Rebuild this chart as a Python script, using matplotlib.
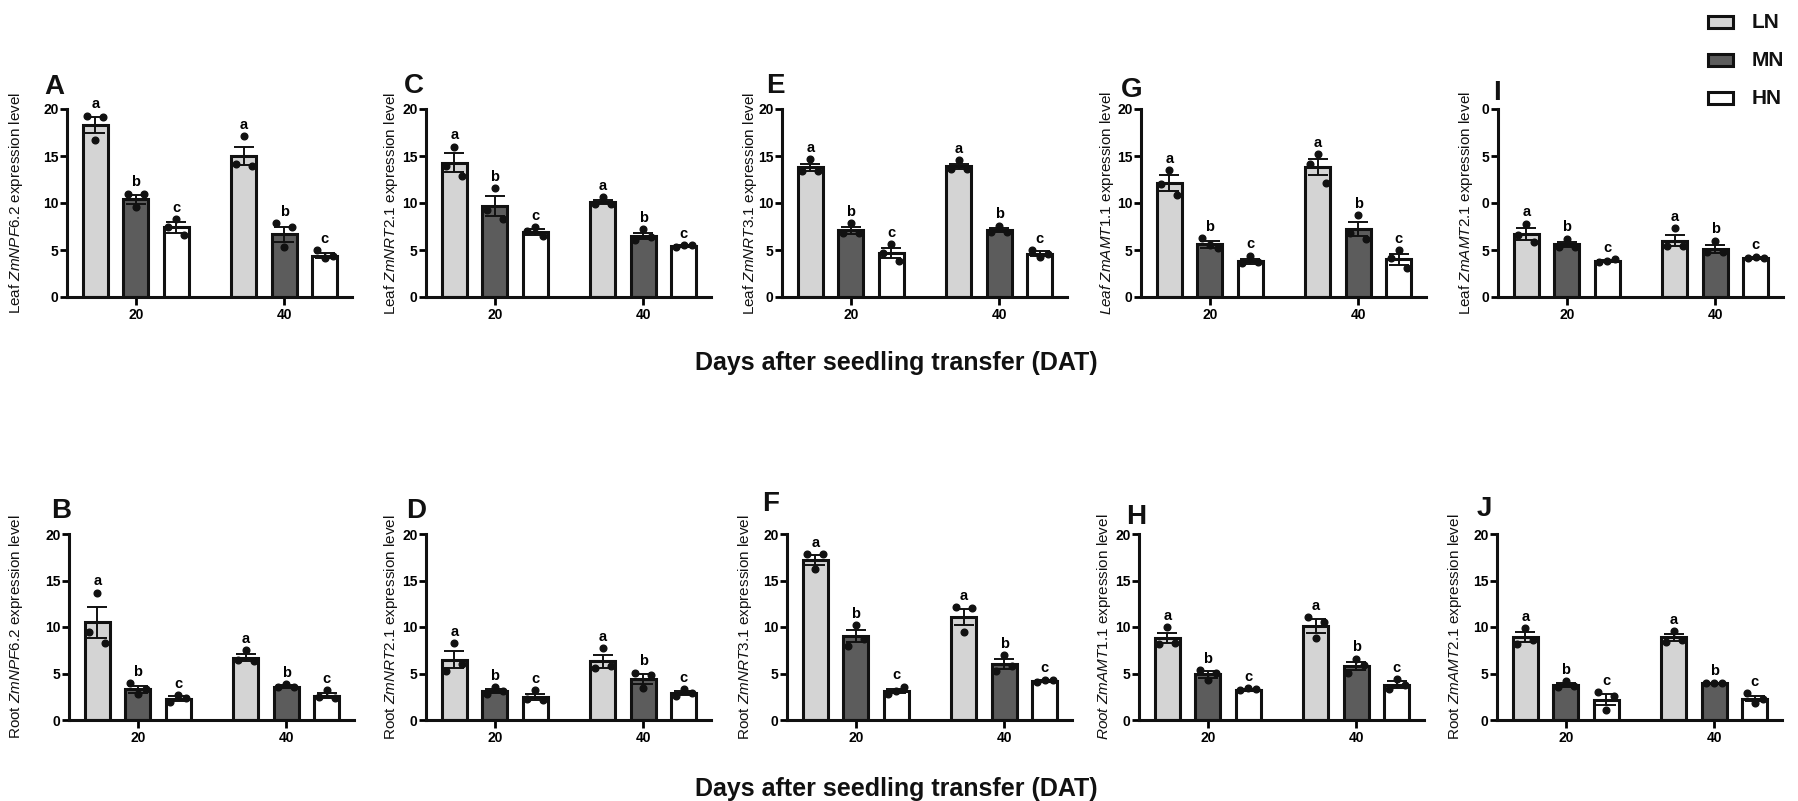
import matplotlib
matplotlib.use("Agg")
import matplotlib.pyplot as plt
from matplotlib.patches import Rectangle
import numpy as np

plt.rcParams['font.family'] = ['Liberation Sans', 'DejaVu Sans']
plt.rcParams['mathtext.fontset'] = 'custom'
plt.rcParams['mathtext.rm'] = 'Liberation Sans'
plt.rcParams['mathtext.it'] = 'Liberation Sans:italic'
plt.rcParams['mathtext.bf'] = 'Liberation Sans:bold'

# ---------------- data ----------------
treatments = ["LN", "MN", "HN"]
days = ["20", "40"]
letters_sig = ["a", "b", "c", "a", "b", "c"]
# bar order: LN20, MN20, HN20, LN40, MN40, HN40
mean_A = [18.3, 10.4, 7.4, 15.0, 6.7, 4.4]
sem_A = [0.85, 0.5, 0.6, 1.0, 0.8, 0.3]
dots_A = [[19.3, 16.7, 19.2], [11.0, 9.6, 11.0], [7.5, 8.3, 6.6],
          [14.2, 17.1, 13.9], [7.9, 5.3, 7.4], [5.0, 4.2, 4.4]]

mean_B = [10.5, 3.3, 2.3, 6.7, 3.6, 2.6]
sem_B = [1.7, 0.35, 0.25, 0.38, 0.15, 0.25]
dots_B = [[9.5, 13.7, 8.3], [4.0, 2.8, 3.3], [1.9, 2.7, 2.4],
          [6.4, 7.5, 6.3], [3.5, 3.9, 3.5], [2.5, 3.2, 2.4]]

mean_C = [14.3, 9.7, 6.9, 10.1, 6.5, 5.4]
sem_C = [1.0, 1.05, 0.3, 0.25, 0.35, 0.1]
dots_C = [[13.9, 16.0, 12.9], [9.3, 11.6, 8.3], [7.0, 7.4, 6.5],
          [9.9, 10.6, 9.9], [6.1, 7.2, 6.4], [5.3, 5.5, 5.5]]

mean_D = [6.5, 3.1, 2.5, 6.3, 4.4, 2.9]
sem_D = [0.9, 0.22, 0.3, 0.7, 0.55, 0.24]
dots_D = [[5.3, 8.3, 6.0], [2.8, 3.5, 3.1], [2.3, 3.2, 2.2],
          [5.6, 7.7, 5.8], [5.1, 3.4, 4.8], [2.6, 3.3, 2.9]]

mean_E = [13.8, 7.1, 4.7, 13.9, 7.1, 4.6]
sem_E = [0.4, 0.35, 0.5, 0.3, 0.22, 0.25]
dots_E = [[13.4, 14.7, 13.4], [6.8, 7.9, 6.8], [4.7, 5.6, 3.8],
          [13.6, 14.6, 13.6], [6.9, 7.6, 6.9], [5.0, 4.3, 4.6]]

mean_F = [17.2, 9.0, 3.1, 11.1, 6.0, 4.2]
sem_F = [0.55, 0.65, 0.25, 0.85, 0.55, 0.15]
dots_F = [[17.8, 16.2, 17.8], [8.0, 10.2, 8.7], [2.8, 3.1, 3.6],
          [12.1, 9.5, 12.0], [5.3, 7.0, 5.8], [4.1, 4.3, 4.3]]

mean_G = [12.1, 5.6, 3.8, 13.8, 7.2, 4.0]
sem_G = [0.85, 0.4, 0.25, 0.85, 0.75, 0.55]
dots_G = [[12.0, 13.5, 10.8], [6.3, 5.5, 5.2], [3.6, 4.4, 3.7],
          [14.2, 15.2, 12.1], [6.8, 8.7, 6.2], [4.2, 5.0, 3.1]]

mean_H = [8.8, 4.9, 3.2, 10.1, 5.8, 3.8]
sem_H = [0.55, 0.35, 0.08, 0.75, 0.45, 0.35]
dots_H = [[8.2, 10.0, 8.3], [5.4, 4.3, 5.1], [3.2, 3.4, 3.3],
          [11.1, 8.8, 10.5], [5.1, 6.6, 5.9], [3.3, 4.4, 3.8]]

mean_I = [6.7, 5.6, 3.8, 6.0, 5.1, 4.2]
sem_I = [0.6, 0.3, 0.1, 0.55, 0.4, 0.05]
dots_I = [[6.6, 7.8, 5.8], [5.3, 6.2, 5.3], [3.7, 3.8, 4.0],
          [5.4, 7.3, 5.4], [4.8, 6.0, 4.8], [4.2, 4.3, 4.2]]

mean_J = [8.9, 3.8, 2.2, 8.9, 4.0, 2.3]
sem_J = [0.55, 0.2, 0.6, 0.4, 0.03, 0.3]
dots_J = [[8.2, 9.9, 8.6], [3.6, 4.2, 3.7], [3.0, 1.1, 2.6],
          [8.4, 9.6, 8.6], [4.0, 4.0, 4.0], [2.9, 1.8, 2.3]]

ylabels = {
    "A": r"Leaf $\mathit{ZmNPF6.2}$ expression level",
    "B": r"Root $\mathit{ZmNPF6.2}$ expression level",
    "C": r"Leaf $\mathit{ZmNRT2.1}$ expression level",
    "D": r"Root $\mathit{ZmNRT2.1}$ expression level",
    "E": r"Leaf $\mathit{ZmNRT3.1}$ expression level",
    "F": r"Root $\mathit{ZmNRT3.1}$ expression level",
    "G": r"$\mathit{Leaf\ ZmAMT1.1}$ expression level",
    "H": r"$\mathit{Root\ ZmAMT1.1}$ expression level",
    "I": r"Leaf $\mathit{ZmAMT2.1}$ expression level",
    "J": r"Root $\mathit{ZmAMT2.1}$ expression level",
}
yticks = [0, 5, 10, 15, 20]
ytick_labels = ["0", "5", "10", "15", "20"]
ytick_labels_I = ["0", "5", "0", "5", "0"]   # clipped in the original
xlabel = "Days after seedling transfer (DAT)"

panels = {
    "A": (mean_A, sem_A, dots_A), "B": (mean_B, sem_B, dots_B),
    "C": (mean_C, sem_C, dots_C), "D": (mean_D, sem_D, dots_D),
    "E": (mean_E, sem_E, dots_E), "F": (mean_F, sem_F, dots_F),
    "G": (mean_G, sem_G, dots_G), "H": (mean_H, sem_H, dots_H),
    "I": (mean_I, sem_I, dots_I), "J": (mean_J, sem_J, dots_J),
}

# ---------------- layout (pixels) ----------------
W, H = 1798, 801
def fx(x): return x / W
def fy(y): return 1 - y / H

colors = ["#d4d4d4", "#5c5c5c", "#ffffff"]
AX_W = 285
# name: (axis left x, y of value 20, y of value 0, ylabel centre x, letter left x, letter baseline y)
layout = {
    "A": (67, 109, 297, 16, 44, 94),
    "C": (426, 109, 297, 391, 404, 93),
    "E": (782, 109, 297, 750, 766, 93),
    "G": (1141, 109, 297, 1107, 1121, 97),
    "I": (1498, 109, 297, 1466, 1493, 100),
    "B": (69, 534, 720, 16, 51, 518),
    "D": (426, 534, 720, 391, 406, 518),
    "F": (787, 534, 720, 745, 762, 511),
    "H": (1139, 534, 720, 1104, 1126, 524),
    "J": (1497, 534, 720, 1455, 1477, 516),
}

group_gap = 3.675
bar_w = 0.62
offsets = np.array([-1.0, 0.0, 1.0])
xpos = np.concatenate([offsets, offsets + group_gap])
jit = np.array([-0.2, 0.0, 0.2])

fig = plt.figure(figsize=(W / 100, H / 100), dpi=100)

for name, (means, sems, dots) in panels.items():
    left, y20, y0, ylx, lx, ly = layout[name]
    ax = fig.add_axes([fx(left), fy(y0), AX_W / W, (y0 - y20) / H])
    cols = colors * 2
    ax.bar(xpos, means, width=bar_w, color=cols, edgecolor="#111111",
           linewidth=2.2, zorder=2)
    ax.errorbar(xpos, means, yerr=sems, fmt="none", ecolor="#111111",
                elinewidth=1.4, capsize=7, capthick=1.4, zorder=3)
    for i, d in enumerate(dots):
        ax.plot(xpos[i] + jit, d, "o", color="#111111", ms=4.8, zorder=4,
                clip_on=False)
        top = max(max(d), means[i] + sems[i])
        ax.text(xpos[i], top + 0.45, letters_sig[i], ha="center", va="bottom",
                fontsize=10.5, fontweight="bold", zorder=5)
    ax.set_xlim(-1.7, group_gap + 1.675)
    ax.set_ylim(0, 20)
    ax.set_yticks(yticks)
    ax.set_yticklabels(ytick_labels_I if name == "I" else ytick_labels,
                       fontsize=10, fontweight="bold")
    ax.set_xticks([0, group_gap])
    ax.set_xticklabels(days, fontsize=10, fontweight="bold")
    for s in ["top", "right"]:
        ax.spines[s].set_visible(False)
    for s in ["left", "bottom"]:
        ax.spines[s].set_linewidth(2.2)
        ax.spines[s].set_color("#111111")
    ax.tick_params(axis="y", direction="out", length=5, width=2.0, pad=1)
    ax.tick_params(axis="x", direction="out", length=6, width=2.0, pad=2)
    ax.patch.set_alpha(0)
    # y label
    fig.text(fx(ylx), fy((y20 + y0) / 2), ylabels[name], rotation=90,
             ha="center", va="center", fontsize=11, color="#111111")
    # panel letter
    fig.text(fx(lx), fy(ly), name, ha="left", va="baseline", fontsize=20,
             fontweight="bold", color="#111111")

# x labels
fig.text(fx(896), fy(363), xlabel, ha="center", va="center", fontsize=18,
         fontweight="bold", color="#111111")
fig.text(fx(896), fy(789), xlabel, ha="center", va="center", fontsize=18,
         fontweight="bold", color="#111111")

# legend
for k, (t, c) in enumerate(zip(treatments, colors)):
    yc = 22 + k * 38
    fig.add_artist(Rectangle((fx(1708), fy(yc + 6)), 25 / W, 12 / H,
                             facecolor=c, edgecolor="#111111", linewidth=2.2,
                             transform=fig.transFigure))
    fig.text(fx(1752), fy(yc), t, ha="left", va="center", fontsize=15,
             fontweight="bold", color="#111111")

fig.savefig("out.png", dpi=100)
